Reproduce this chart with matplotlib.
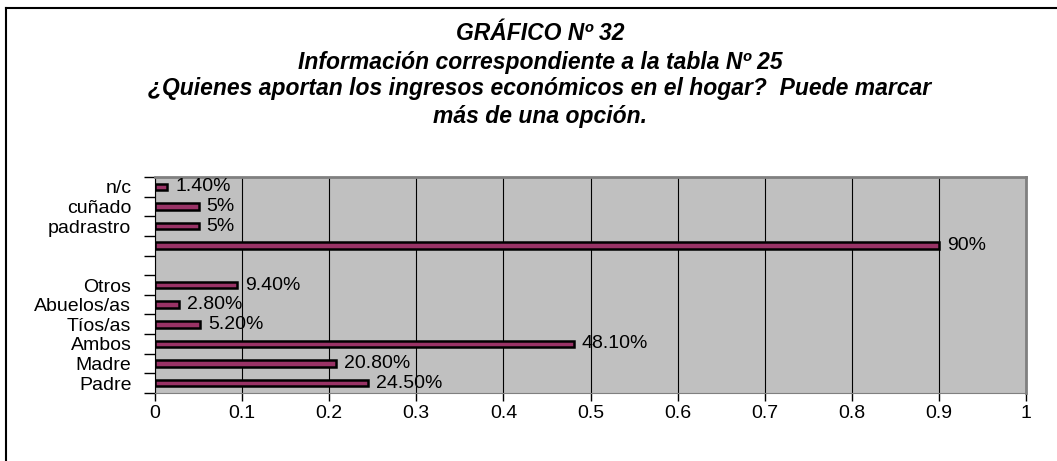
import numpy as np
import matplotlib
matplotlib.use("Agg")
import matplotlib.pyplot as plt
from matplotlib import font_manager

categories = ["Padre", "Madre", "Ambos", "Tíos/as", "Abuelos/as", "Otros", "", "", "padrastro", "cuñado", "n/c"]
values = [0.245, 0.208, 0.481, 0.052, 0.028, 0.094, np.nan, 0.90, 0.05, 0.05, 0.014]
value_labels = ["24.50%", "20.80%", "48.10%", "5.20%", "2.80%", "9.40%", "", "90%", "5%", "5%", "1.40%"]
xticks = [0, 0.1, 0.2, 0.3, 0.4, 0.5, 0.6, 0.7, 0.8, 0.9, 1]
xtick_labels = ["0", "0.1", "0.2", "0.3", "0.4", "0.5", "0.6", "0.7", "0.8", "0.9", "1"]
title_lines = ["GRÁFICO Nº 32",
               "Información correspondiente a la tabla Nº 25",
               "¿Quienes aportan los ingresos económicos en el hogar?  Puede marcar",
               "más de una opción."]

names = {f.name for f in font_manager.fontManager.ttflist}
title_font = "Liberation Sans Narrow" if "Liberation Sans Narrow" in names else "Liberation Sans"
plt.rcParams['font.family'] = ['Liberation Sans', 'DejaVu Sans']

fig = plt.figure(figsize=(10.57, 4.61), dpi=100)
W, H = 1057, 461
# outer frame (top & left visible)
fig.add_artist(plt.Line2D([6/W, 6/W], [0, 1 - 8/H], color='black', lw=1.5, transform=fig.transFigure))
fig.add_artist(plt.Line2D([6/W, 1], [1 - 8/H, 1 - 8/H], color='black', lw=1.5, transform=fig.transFigure))

left, right, top, bottom = 155, 1026, 177, 393
ax = fig.add_axes([left/W, 1 - bottom/H, (right-left)/W, (bottom-top)/H])
ax.set_facecolor('#c0c0c0')

y = np.arange(len(categories))
ax.barh(y, values, height=0.33, color='#993366', edgecolor='black', linewidth=1.8, zorder=3)
for yi, v, lab in zip(y, values, value_labels):
    if lab and not np.isnan(v):
        ax.text(v + 0.009, yi, lab, va='center', ha='left', fontsize=14, zorder=4)

ax.set_xlim(0, 1)
ax.set_ylim(-0.5, len(categories) - 0.5)
ax.set_xticks(xticks)
ax.set_xticklabels(xtick_labels, fontsize=14)
ax.set_yticks(y)
ax.set_yticklabels(categories, fontsize=14)
ax.tick_params(axis='y', length=0, pad=17)
ax.set_yticks(np.arange(-0.5, len(categories), 1), minor=True)
ax.tick_params(axis='y', which='minor', length=8, width=1, direction='out')
ax.tick_params(axis='x', length=6, width=1, direction='out', pad=3)
ax.xaxis.grid(True, color='black', lw=0.8, zorder=0)
ax.set_axisbelow(True)
for s in ['top', 'right']:
    ax.spines[s].set_color('#808080')
    ax.spines[s].set_linewidth(2)
ax.spines['bottom'].set_color('#808080')
ax.spines['left'].set_color('black')

ys = [34, 63, 89, 116]
for line, yy in zip(title_lines, ys):
    fig.text(540/W, 1 - yy/H, line, ha='center', va='center', fontsize=16.5,
             fontweight='bold', fontstyle='italic', family=title_font)

fig.savefig('out.png', dpi=100)
